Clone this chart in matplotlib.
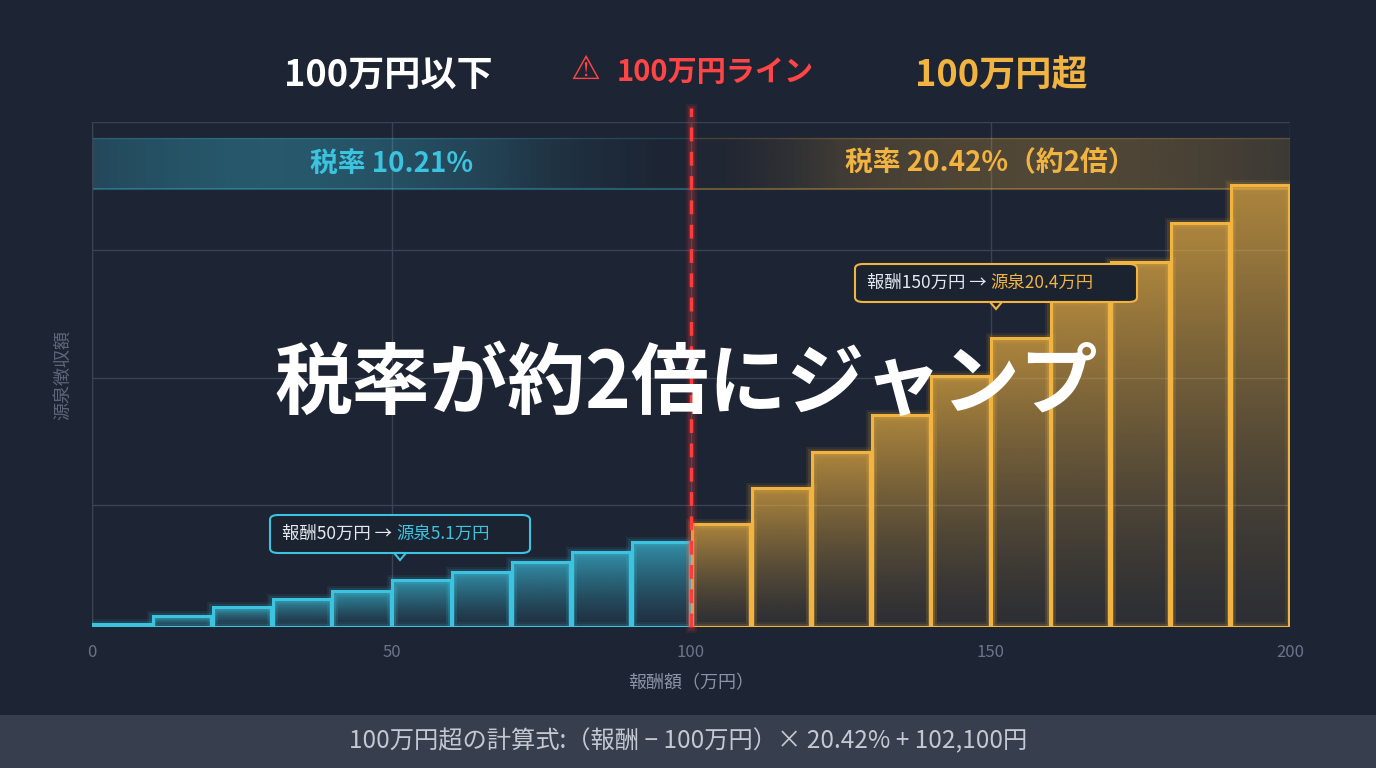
import matplotlib
matplotlib.use("Agg")
import matplotlib.pyplot as plt
import numpy as np
from matplotlib.patches import FancyBboxPatch, Rectangle

plt.rcParams['font.family'] = ['Noto Sans CJK JP', 'DejaVu Sans']

# data (万円)
bins_left = [0, 10, 20, 30, 40, 50, 60, 70, 80, 90, 100, 110, 120, 130, 140, 150, 160, 170, 180, 190]
tax = [0.24, 0.87, 1.58, 2.22, 2.85, 3.72, 4.36, 5.15, 5.94, 6.73,
       8.16, 11.0, 13.9, 16.8, 19.9, 22.9, 25.9, 28.9, 32.0, 35.0]
xticks = [0, 50, 100, 150, 200]
yticks = [9.66, 19.7, 29.9, 40]
threshold = 100

BG = '#1d2433'
BLUE = '#3cc3e0'
ORANGE = '#f2b441'
W, H = 1376, 768
fig = plt.figure(figsize=(W/100, H/100), dpi=100, facecolor=BG)

def fx(p): return p / W
def fy(p): return 1 - p / H

ax = fig.add_axes([fx(92), fy(627), fx(1290) - fx(92), fy(122) - fy(627)])
ax.set_facecolor(BG)
ax.set_xlim(0, 200)
ax.set_ylim(0, 40)
for s in ax.spines.values():
    s.set_visible(False)
ax.axhline(0, color='#4a5366', lw=1)
ax.axvline(0, color='#3a4355', lw=1)
ax.set_xticks(xticks)
ax.set_xticklabels([str(t) for t in xticks], color='#6b7487', fontsize=12)
ax.set_yticks(yticks)
ax.set_yticklabels([])
ax.tick_params(length=0, pad=12)
ax.grid(True, color='#3a4355', lw=1)
ax.set_axisbelow(True)
ax.set_xlabel('報酬額（万円）', color='#8a93a6', fontsize=13, labelpad=10)
ax.set_ylabel('源泉徴収額', color='#5d6678', fontsize=13, labelpad=2)

# rate bands
xs = np.linspace(0, 1, 256)
for x0, x1, c in [(0, 100, BLUE), (100, 200, ORANGE)]:
    if c == BLUE:
        alpha = (0.15 + 0.85 * np.exp(-((xs - 0.3) / 0.45) ** 2)) * 0.33 * np.clip((1 - xs) * 3, 0, 1)
    else:
        alpha = (0.15 + 0.85 * np.exp(-((xs - 0.6) / 0.5) ** 2)) * 0.25 * np.clip(xs * 4, 0.2, 1)
    rgba = np.zeros((1, 256, 4))
    rgba[..., :3] = matplotlib.colors.to_rgb(c)
    rgba[..., 3] = alpha
    ax.imshow(rgba, extent=[x0, x1, 34.7, 38.7], aspect='auto', zorder=1)
    ax.plot([x0, x1], [34.7, 34.7], color=c, alpha=0.35, lw=1.5, zorder=1)
    ax.plot([x0, x1], [38.7, 38.7], color=c, alpha=0.2, lw=1, zorder=1)
ax.text(50, 36.7, '税率 10.21%', color=BLUE, fontsize=20, fontweight='bold', ha='center', va='center', zorder=5)
ax.text(150, 36.7, '税率 20.42%（約2倍）', color=ORANGE, fontsize=20, fontweight='bold', ha='center', va='center', zorder=5)

# bars with gradient fill
for xl, h in zip(bins_left, tax):
    c = BLUE if xl < threshold else ORANGE
    rgb = matplotlib.colors.to_rgb(c)
    g = np.linspace(1, 0, 128)[:, None]
    img = np.zeros((128, 1, 4))
    img[..., :3] = rgb
    img[..., 3] = 0.08 + 0.6 * g ** 1.3
    ax.imshow(img, extent=[xl, xl + 10, 0, h], aspect='auto', zorder=3)
    for lw, a in [(8, 0.08), (5, 0.12)]:
        ax.add_patch(Rectangle((xl, 0), 10, h, fill=False, ec=c, lw=lw, alpha=a, zorder=3))
    ax.add_patch(Rectangle((xl + 0.15, 0), 9.7, h, fill=False, ec=c, lw=2.2, zorder=4))

# threshold line
for lw, a in [(8, 0.1), (5, 0.15)]:
    ax.plot([threshold, threshold], [0, 41], color='#ff3b3b', lw=lw, alpha=a, zorder=5, clip_on=False)
ax.plot([threshold, threshold], [0, 41.1], color='#ff3b3b', lw=2.5, ls=(0, (4, 3)), zorder=6, clip_on=False)
ax.set_ylim(0, 40)

# headings
fig.text(fx(388), fy(75), '100万円以下', color='white', fontsize=26, fontweight='bold', ha='center', va='center')
fig.text(fx(1001), fy(75), '100万円超', color=ORANGE, fontsize=26, fontweight='bold', ha='center', va='center')
fig.text(fx(585), fy(70), '⚠', color='#ff4545', fontsize=24, ha='center', va='center',
         family=['DejaVu Sans'])
fig.text(fx(617), fy(72), '100万円ライン', color='#ff4545', fontsize=21, fontweight='bold', ha='left', va='center')

# annotations
def callout(cx, cy, w, h, c, t1, t2):
    box = FancyBboxPatch((fx(cx - w/2), fy(cy + h/2)), fx(w), h / H, boxstyle='round,pad=0,rounding_size=0.006',
                         transform=fig.transFigure, fc='#1b2230', ec=c, lw=1.5, zorder=10)
    fig.add_artist(box)
    fig.patches.append(matplotlib.patches.Polygon(
        [[fx(cx - 6), fy(cy + h/2)], [fx(cx + 6), fy(cy + h/2)], [fx(cx), fy(cy + h/2 + 7)]],
        closed=True, transform=fig.transFigure, fc='#1b2230', ec=c, lw=1.5, zorder=10))
    a = fig.text(fx(cx - w/2 + 12), fy(cy), t1, color='#e6e9ef', fontsize=12.5, va='center', ha='left', zorder=11,
                 family=['Noto Sans CJK JP', 'DejaVu Sans'])
    fig.canvas.draw()
    bb = a.get_window_extent()
    fig.text(bb.x1 / W + 0.003, fy(cy), t2, color=c, fontsize=12.5, va='center', ha='left', zorder=11)

callout(400, 534, 260, 38, BLUE, '報酬50万円 →', '源泉5.1万円')
callout(996, 283, 282, 38, ORANGE, '報酬150万円 →', '源泉20.4万円')

# big overlay
fig.text(fx(686), fy(385), '税率が約2倍にジャンプ', color='white', fontsize=56, fontweight='bold', ha='center', va='center', zorder=20)

# bottom formula band
fig.add_artist(Rectangle((0, 0), 1, 53 / H, transform=fig.transFigure, fc='#373f4e', ec='none', zorder=0))
fig.text(0.5, 26.5 / H, '100万円超の計算式:（報酬 − 100万円）× 20.42% + 102,100円', color='#c3c8d2', fontsize=17.5,
         ha='center', va='center')

fig.savefig('out.png', dpi=100, facecolor=BG)
